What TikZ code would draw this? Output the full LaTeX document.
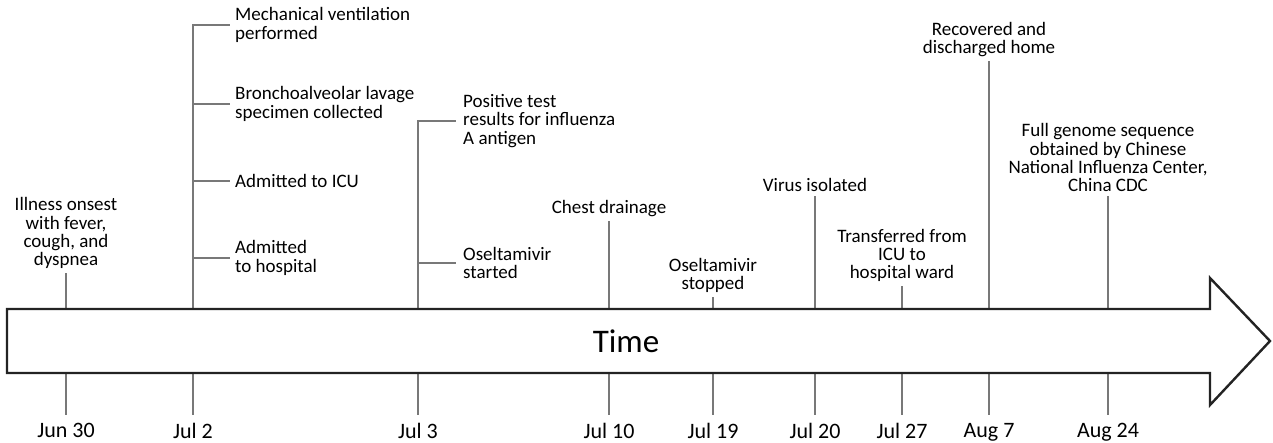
\documentclass[tikz,border=0pt]{standalone}
\usepackage{fontspec}
\setmainfont{Carlito}
\definecolor{tickgray}{RGB}{120,120,120}
\definecolor{arrowline}{RGB}{35,35,35}
\tikzstyle{event} = [align=center, inner xsep=2pt, inner ysep=4pt,
                     font=\fontsize{19}{18.3}\selectfont]
\tikzstyle{branch} = [event, align=left, anchor=west, inner xsep=5pt]
\tikzstyle{date} = [anchor=north, inner ysep=8pt, font=\fontsize{22}{24}\selectfont]
\tikzstyle{tick} = [draw=tickgray, line width=1.3pt]
\tikzstyle{timeline} = [draw=arrowline, fill=white, line width=2.4pt, line join=miter]

\begin{document}
\begin{tikzpicture}[x=1pt, y=-1pt]
    \useasboundingbox (0,0) rectangle (1273,442);

    %Dates below the arrow
    \foreach \x/\d/\n in {66/Jun 30/a, 193/Jul 2/b, 418/Jul 3/c, 609/Jul 10/d, 713/Jul 19/e,
                          815/Jul 20/f, 902/Jul 27/g, 989/Aug 7/h, 1108/Aug 24/i}
    {
        \coordinate (top\n) at (\x,309);
        \coordinate (bot\n) at (\x,373);
        \node (date\n) [date] at (\x,415) {\d};
        \draw [tick] (bot\n) -- (date\n.north);
    }

    %Jun 30
    \node (onset) [event, anchor=south] at (66,273) {Illness onsest\\with fever,\\cough, and\\dyspnea};
    \draw [tick] (topa) -- (onset.south);

    %Jul 2
    \node (vent) [branch] at (230,25) {Mechanical ventilation\\performed};
    \node (lavage) [branch] at (230,104) {Bronchoalveolar lavage\\specimen collected};
    \node (icu) [branch] at (230,181) {Admitted to ICU};
    \node (hosp) [branch] at (230,258) {Admitted\\to hospital};
    \foreach \n in {vent, lavage, icu, hosp}
        \draw [tick] (topb) |- (\n.west);

    %Jul 3
    \node (positive) [branch, inner xsep=7pt] at (456,121) {Positive test\\results for influenza\\A antigen};
    \node (oselstart) [branch, inner xsep=7pt] at (456,263) {Oseltamivir\\started};
    \foreach \n in {positive, oselstart}
        \draw [tick] (topc) |- (\n.west);

    %Jul 10 to Aug 24
    \node (drain) [event, anchor=south] at (609,221) {Chest drainage};
    \node (oselstop) [event, anchor=south] at (713,297) {Oseltamivir\\stopped};
    \node (virus) [event, anchor=south] at (815,196) {Virus isolated};
    \node (transfer) [event, anchor=south] at (902,286) {Transferred from\\ICU to\\hospital ward};
    \node (home) [event, anchor=south] at (989,61) {Recovered and\\discharged home};
    \node (genome) [event, anchor=south] at (1108,196) {Full genome sequence\\obtained by Chinese\\National Influenza Center,\\China CDC};
    \draw [tick] (topd) -- (drain.south);
    \draw [tick] (tope) -- (oselstop.south);
    \draw [tick] (topf) -- (virus.south);
    \draw [tick] (topg) -- (transfer.south);
    \draw [tick] (toph) -- (home.south);
    \draw [tick] (topi) -- (genome.south);

    %Big time arrow
    \draw [timeline] (7,309) -- (1210,309) -- (1210,278) -- (1270,341) -- (1210,405) -- (1210,373) -- (7,373) -- cycle;
    \node (Time) [font=\fontsize{33}{36}\selectfont] at (626,341) {Time};

\end{tikzpicture}
\end{document}
